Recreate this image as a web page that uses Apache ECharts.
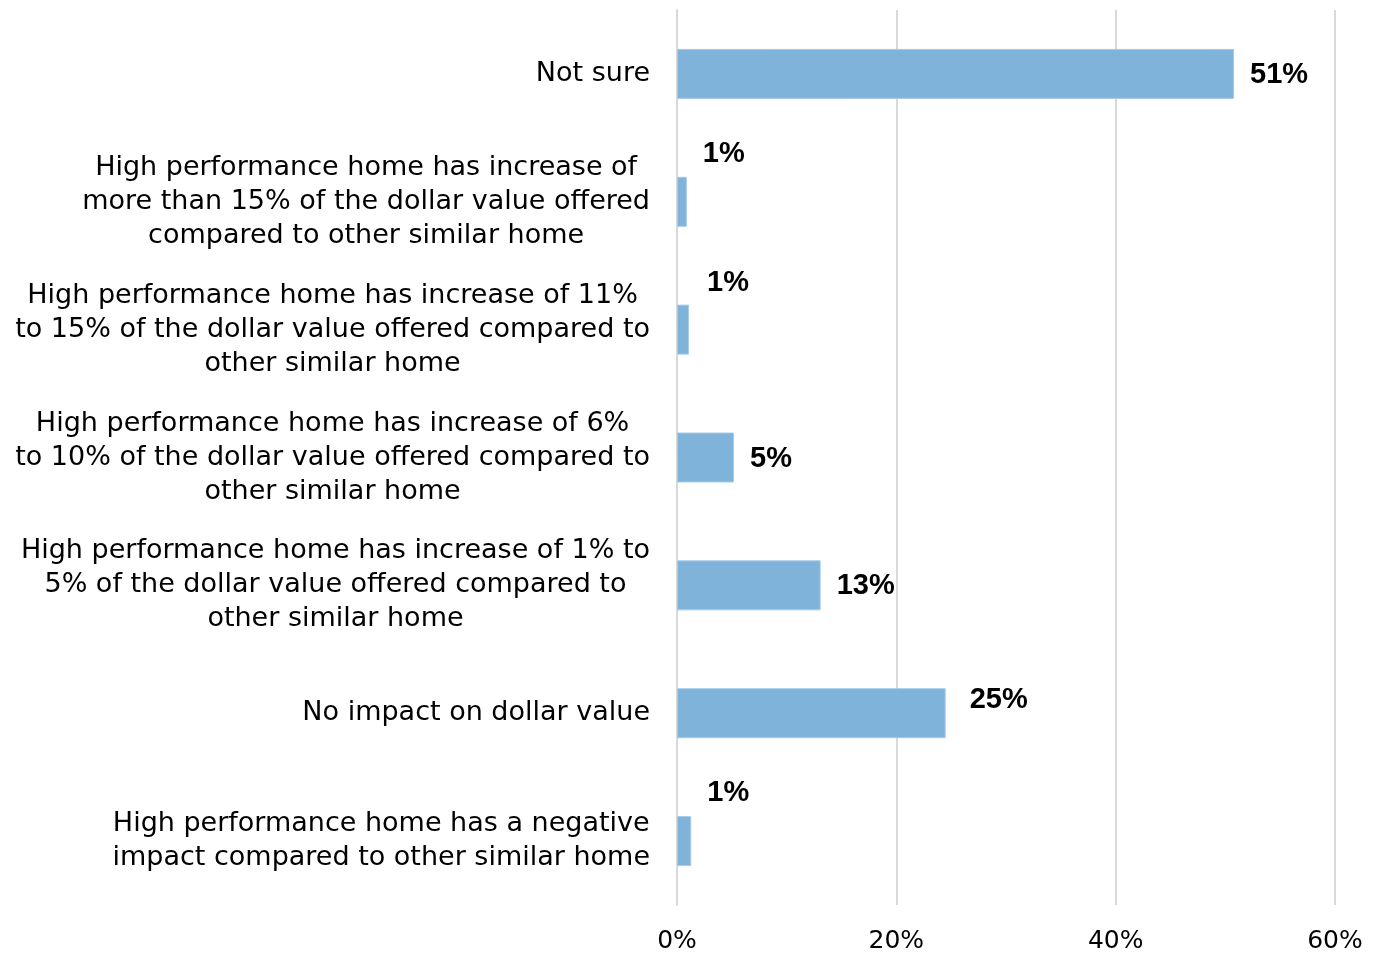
<!DOCTYPE html>
<html><head><meta charset="utf-8">
<script src="https://cdn.jsdelivr.net/npm/echarts@6/dist/echarts.min.js"></script>
<style>html,body{margin:0;padding:0;background:#fff}#c{width:1379px;height:954px}</style>
</head><body><div id="c"></div>
<script>
const categories = [
  'Not sure',
  'High performance home has increase of\nmore than 15% of the dollar value offered\ncompared to other similar home',
  'High performance home has increase of 11%\nto 15% of the dollar value offered compared to\nother similar home',
  'High performance home has increase of 6%\nto 10% of the dollar value offered compared to\nother similar home',
  'High performance home has increase of 1% to\n5% of the dollar value offered compared to\nother similar home',
  'No impact on dollar value',
  'High performance home has a negative\nimpact compared to other similar home'
];
const values = [50.8, 0.9, 1.1, 5.2, 13.1, 24.5, 1.3];
const valueLabels = ['51%', '1%', '1%', '5%', '13%', '25%', '1%'];
const xTicks = [0, 20, 40, 60];

const FONT = 'DejaVu Sans';
const BOLD_FONT = 'Liberation Sans';
const labelOffsets = [[0,1],[0,-48],[2,-47],[0,1],[0,1],[8,-13],[0,-48]];

const chart = echarts.init(document.getElementById('c'), null, {renderer:'canvas'});
chart.setOption({
  animation: false,
  backgroundColor: '#fff',
  grid: {left: 677, right: 44, top: 10, bottom: 48, containLabel: false},
  xAxis: {
    type: 'value', min: 0, max: 60, interval: 20,
    axisLine: {show: false}, axisTick: {show: false},
    splitLine: {show: true, lineStyle: {color: '#d9d9d9', width: 2}},
    axisLabel: {
      formatter: v => xTicks.includes(v) ? v + '%' : '',
      color: '#000', fontFamily: FONT, fontSize: 25, margin: 24
    }
  },
  yAxis: {
    type: 'category', data: categories, inverse: true,
    axisLine: {show: true, lineStyle: {color: '#d9d9d9', width: 2}},
    axisTick: {show: false},
    axisLabel: {
      margin: 27, align: 'right',
      formatter: v => v.split('\n').map(l => '{c|' + l + '}').join('\n'),
      rich: {c: {align: 'center', fontFamily: FONT, fontSize: 27, lineHeight: 34, color: '#000'}}
    }
  },
  series: [{
    type: 'bar',
    barWidth: 50,
    itemStyle: {color: '#7fb3da', borderColor: '#a6cbe7', borderWidth: 1},
    data: values.map((v, i) => ({
      value: v,
      label: {
        show: true, position: 'right', distance: 16,
        offset: labelOffsets[i],
        formatter: () => valueLabels[i],
        fontFamily: BOLD_FONT, fontWeight: 'bold', fontSize: 29, color: '#000'
      }
    }))
  }]
});
</script></body></html>
